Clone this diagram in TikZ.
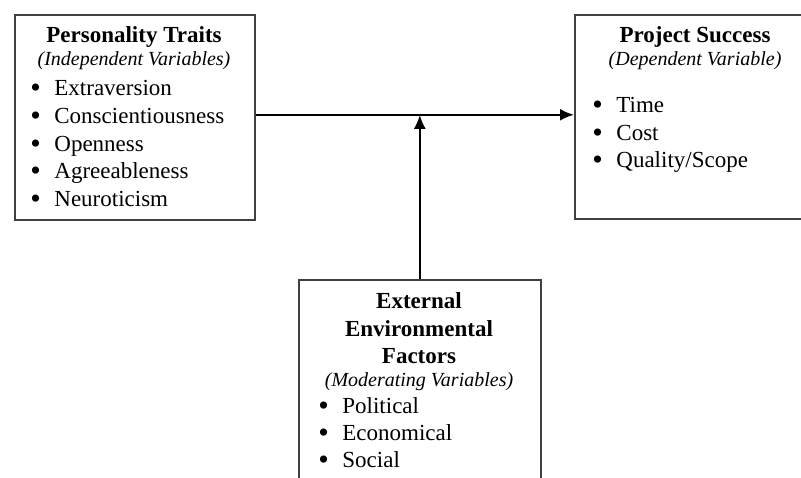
\documentclass[tikz,border=0pt]{standalone}
\usepackage{fontspec}
\setmainfont{Liberation Serif}
\usepackage{xcolor}
\usepackage{tikz}
\usetikzlibrary{positioning}
\usetikzlibrary{arrows.meta}
\tikzset{edge/.style = {-{Latex[length=7pt,width=6pt]}, line width=1.1pt}}
\newcommand{\itm}[1]{\makebox[12pt][l]{\raisebox{-1.4pt}{\fontsize{15}{15}\selectfont\textbullet}}#1}

\begin{document}
\begin{tikzpicture}[x=0.5pt,y=-0.5pt,
    box node/.style={rectangle,draw=black!75,line width=0.8pt,anchor=north west,inner sep=0pt},
    title node/.style={anchor=base,font=\fontsize{11.5}{13}\selectfont\bfseries},
    sub node/.style={anchor=base,font=\fontsize{10}{12}\selectfont\itshape},
    item node/.style={anchor=base west,inner sep=0pt,font=\fontsize{11.5}{13}\selectfont}]
                \useasboundingbox (0,0) rectangle (801,477);
                \clip (0,0) rectangle (801,477);

                % boxes
                \node[box node, minimum width=120pt, minimum height=102.5pt] (traits) at (14,14) {};
                \node[box node, minimum width=123pt, minimum height=102pt] (success) at (574,14) {};
                \node[box node, minimum width=121pt, minimum height=105.5pt] (external) at (298,279) {};

                % personality traits
                \node[title node] (traitstitle) at (134,42) {Personality Traits};
                \node[sub node] (traitssub) at (134,65) {(Independent Variables)};
                \node[item node] (extra) at (30,95) {\itm{Extraversion}};
                \node[item node] (consc) at (30,123) {\itm{Conscientiousness}};
                \node[item node] (open) at (30,151) {\itm{Openness}};
                \node[item node] (agree) at (30,178) {\itm{Agreeableness}};
                \node[item node] (neuro) at (30,206) {\itm{Neuroticism}};

                % project success
                \node[title node] (successtitle) at (695,42) {Project Success};
                \node[sub node] (successsub) at (695,65) {(Dependent Variable)};
                \node[item node] (time) at (592,112) {\itm{Time}};
                \node[item node] (cost) at (592,140) {\itm{Cost}};
                \node[item node] (quality) at (592,167) {\itm{Quality/Scope}};

                % external factors
                \node[title node] (exttitle) at (419,308) {External};
                \node[title node] (envtitle) at (419,336) {Environmental};
                \node[title node] (factitle) at (419,363) {Factors};
                \node[sub node] (extsub) at (419,386) {(Moderating Variables)};
                \node[item node] (polit) at (318,413) {\itm{Political}};
                \node[item node] (econ) at (318,440) {\itm{Economical}};
                \node[item node] (social) at (318,467) {\itm{Social}};

                \coordinate (start) at ([yshift=1.25pt]traits.east);
                \coordinate (join) at (external.north |- start);
                \path[edge] (start) edge[] node {} (start -| success.west);
                \path[edge] (external.north) edge[] node {} (join);
            \end{tikzpicture}
\end{document}
